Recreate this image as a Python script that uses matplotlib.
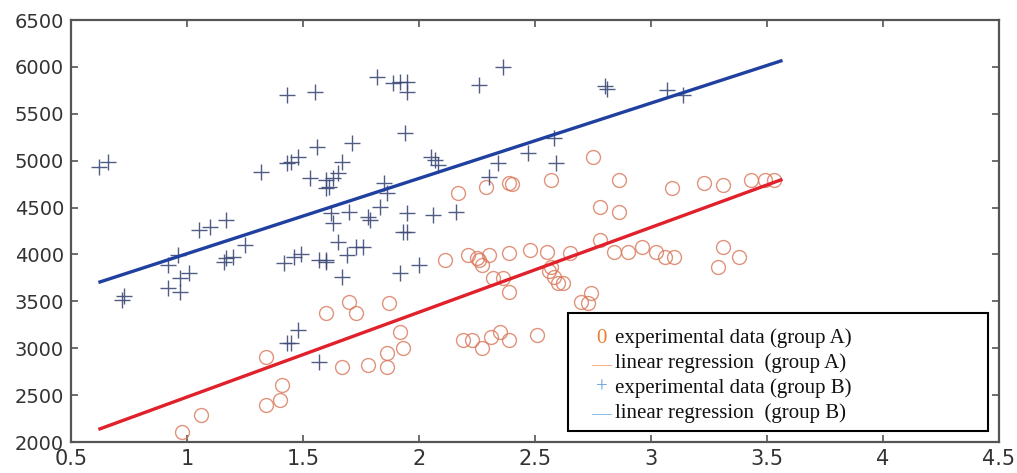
import matplotlib
matplotlib.use("Agg")
import matplotlib.pyplot as plt
import matplotlib.patches as patches
import numpy as np

# group A: experimental data (circles)
a_x = [0.98, 1.06, 1.34, 1.40, 1.41, 1.34, 1.60, 1.70, 1.73, 1.87, 1.92, 1.86, 1.93,
       1.67, 1.78, 1.86, 2.11, 2.21, 2.26, 2.27, 2.30, 2.39, 2.48, 2.55, 2.65, 2.32,
       2.36, 2.39, 2.57, 2.58, 2.60, 2.19, 2.23, 2.27, 2.31, 2.35, 2.39, 2.51, 2.75,
       2.86, 2.78, 2.86, 3.09, 3.23, 3.31, 3.43, 3.49, 3.53, 2.78, 2.84, 2.90, 2.96,
       3.02, 3.06, 3.10, 3.31, 3.29, 3.38, 2.74, 2.70, 2.73, 2.62, 2.17, 2.29, 2.39,
       2.57, 2.25, 2.40, 2.56]
a_y = [2110, 2290, 2395, 2450, 2610, 2905, 3375, 3495, 3375, 3480, 3175, 2950, 3000,
       2800, 2820, 2800, 3940, 3995, 3940, 3890, 3995, 4015, 4050, 4030, 4015, 3750,
       3750, 3600, 3870, 3760, 3700, 3090, 3090, 3000, 3120, 3175, 3090, 3140, 5040,
       4795, 4510, 4455, 4710, 4760, 4740, 4795, 4795, 4795, 4155, 4030, 4030, 4080,
       4030, 3975, 3975, 4080, 3865, 3975, 3590, 3495, 3480, 3700, 4655, 4720, 4760,
       4795, 3960, 4750, 3820]

# group B: experimental data (crosses)
b_x = [0.62, 0.66, 0.72, 0.73, 0.92, 0.97, 0.97, 1.01, 0.92, 0.96, 1.05, 1.10, 1.17,
       1.17, 1.16, 1.20, 1.25, 1.42, 1.46, 1.49, 1.57, 1.60, 1.43, 1.45, 1.48, 1.57,
       1.32, 1.43, 1.55, 1.43, 1.45, 1.48, 1.56, 1.53, 1.60, 1.60, 1.82, 1.89, 1.92,
       1.95, 1.95, 2.26, 2.36, 1.94, 1.71, 1.67, 1.65, 1.63, 1.61, 2.05, 2.08, 2.07,
       1.85, 1.86, 2.34, 2.47, 2.58, 2.59, 2.30, 1.83, 1.70, 1.78, 1.95, 2.06, 2.16,
       1.62, 1.79, 1.63, 1.65, 1.69, 1.73, 1.76, 1.60, 1.67, 1.93, 1.95, 1.92, 2.00,
       2.80, 2.81, 3.07, 3.14]
b_y = [4933, 4985, 3515, 3560, 3643, 3600, 3750, 3800, 3890, 3995, 4260, 4290, 4370,
       3960, 3920, 3975, 4100, 3910, 3975, 4000, 3940, 3940, 3060, 3060, 3195, 2855,
       4880, 5700, 5735, 4975, 4985, 5040, 5145, 4815, 4795, 4710, 5890, 5830, 5840,
       5840, 5735, 5810, 6000, 5295, 5190, 4985, 4870, 4815, 4720, 5040, 4955, 5010,
       4760, 4655, 4975, 5080, 5240, 4975, 4830, 4505, 4450, 4400, 4440, 4420, 4450,
       4440, 4370, 4335, 4135, 3995, 4080, 4080, 3920, 3760, 4240, 4240, 3800, 3890,
       5800, 5760, 5750, 5700]

# linear regression lines: slope, intercept and fitted x range
reg_a = (904.6, 1575.0)
reg_b = (803.0, 3205.0)
fit_range = [0.625, 3.56]

x_ticks = [0.5, 1, 1.5, 2, 2.5, 3, 3.5, 4, 4.5]
x_tick_labels = ["0.5", "1", "1.5", "2", "2.5", "3", "3.5", "4", "4.5"]
y_ticks = [2000, 2500, 3000, 3500, 4000, 4500, 5000, 5500, 6000, 6500]

legend_symbols = ["0", "__", "+", "__"]
legend_labels = ["experimental data (group A)", "linear regression  (group A)",
                 "experimental data (group B)", "linear regression  (group B)"]
legend_colors = ["#f07a30", "#f5a070", "#5b9bd5", "#75aee0"]

fig = plt.figure(figsize=(10.17, 4.73), dpi=100)
ax = fig.add_axes([0.0698, 0.0655, 0.9125, 0.8922])

ax.plot(a_x, a_y, "o", markersize=10, markerfacecolor="none",
        markeredgecolor="#d9785a", markeredgewidth=1.0, alpha=0.8)
ax.plot(b_x, b_y, "+", markersize=12, color="#3e4a78", markeredgewidth=1.0, alpha=0.9)

fx = np.array(fit_range)
ax.plot(fx, reg_a[0] * fx + reg_a[1], color="#e0202a", linewidth=2.4)
ax.plot(fx, reg_b[0] * fx + reg_b[1], color="#2040a0", linewidth=2.4)

ax.set_xlim(0.5, 4.5)
ax.set_ylim(2000, 6500)
ax.set_xticks(x_ticks)
ax.set_xticklabels(x_tick_labels)
ax.set_yticks(y_ticks)
ax.tick_params(direction="in", top=True, right=True, length=5, width=1.2,
               color="#555555", labelcolor="#333333")
ax.tick_params(axis="x", pad=5, labelsize=15)
ax.tick_params(axis="y", pad=5, labelsize=14)
for s in ax.spines.values():
    s.set_color("#555555")
    s.set_linewidth(1.6)

# hand-made legend box
box = patches.Rectangle((0.5356, 0.026), 0.4527, 0.28, transform=ax.transAxes,
                        facecolor="white", edgecolor="black", linewidth=1.5, zorder=5)
ax.add_patch(box)
rows = [0.245, 0.186, 0.128, 0.069]
for sym, lab, col, yy in zip(legend_symbols, legend_labels, legend_colors, rows):
    sym_y = yy + 0.012 if sym == "__" else yy
    ax.text(0.5717, sym_y, sym, transform=ax.transAxes, color=col, fontsize=15,
            family="Liberation Serif", ha="center", va="center", zorder=6)
    ax.text(0.5860, yy, lab, transform=ax.transAxes, color="#111111", fontsize=15,
            family="Liberation Serif", ha="left", va="center", zorder=6)

fig.savefig("out.png", dpi=100)
